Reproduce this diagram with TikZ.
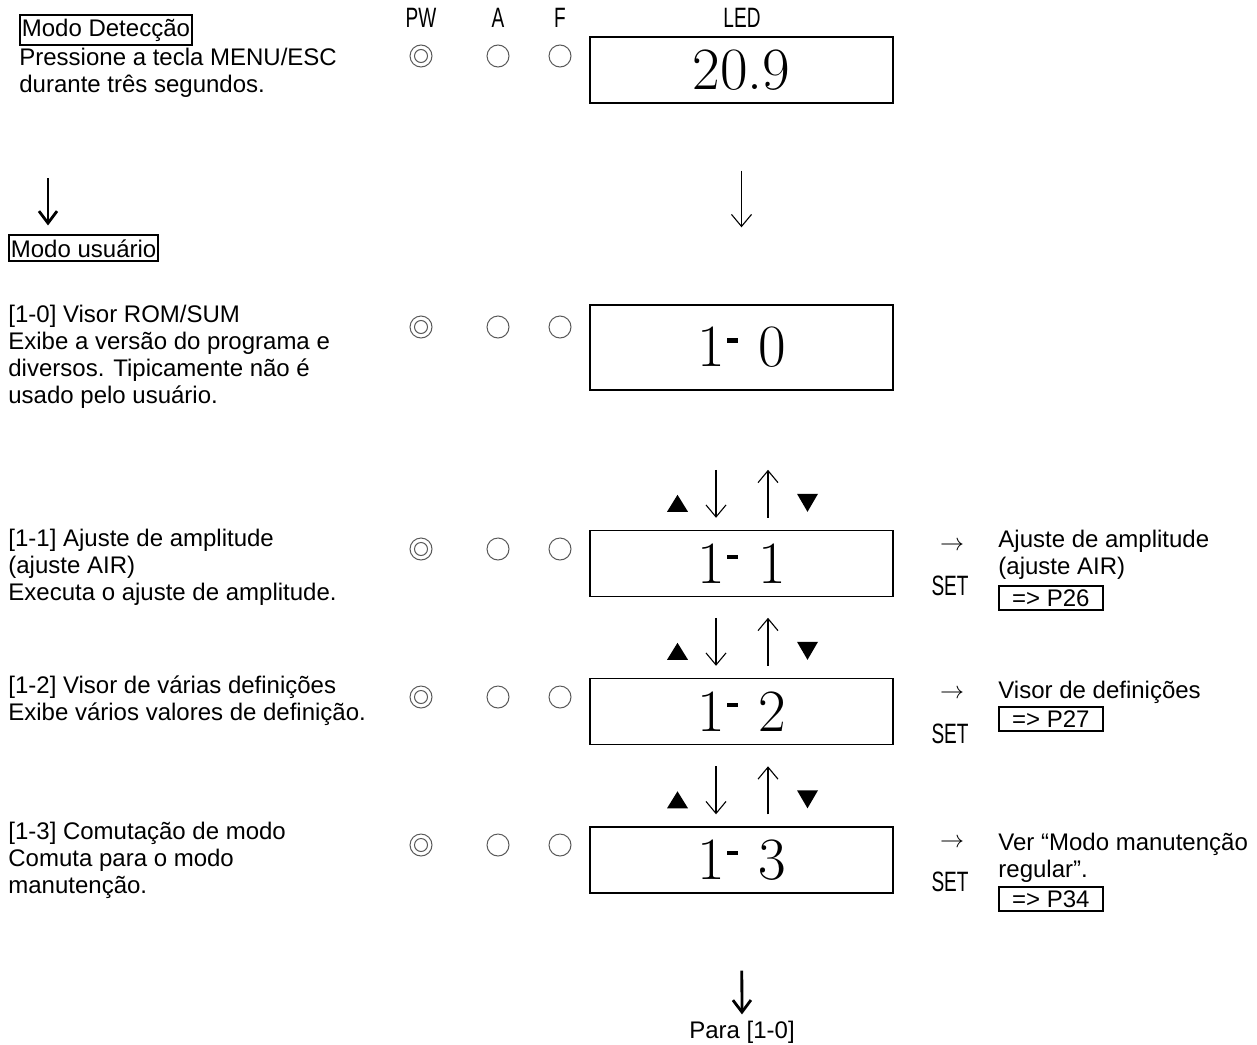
\documentclass[tikz,border=0pt]{standalone}
\usepackage{fontspec}
\setmainfont{Liberation Sans}
\newfontfamily\narrowfont[FakeStretch=0.68]{Liberation Sans}
\usetikzlibrary{arrows.meta,calc}

% dash of the LED read-out
\newcommand{\leddash}{\kern1pt\rule[12pt]{5.5pt}{2.2pt}\kern10pt}

\tikzset{
    txt/.style={anchor=base west, inner sep=0pt, align=left,
        font=\fontsize{12}{13.5}\selectfont},
    tagbox/.style={draw, line width=0.9pt, inner xsep=1pt, inner ysep=2pt,
        font=\fontsize{12}{13.5}\selectfont},
    refbox/.style={draw, line width=0.9pt, inner sep=0pt, minimum width=52pt,
        minimum height=12pt, anchor=north west, font=\fontsize{12}{12}\selectfont},
    hdr/.style={font=\narrowfont\fontsize{14}{14}\selectfont},
    lamp/.style={circle, draw=black!65, line width=0.5pt, minimum size=11pt, inner sep=0pt},
    led/.style={draw, line width=0.7pt, minimum width=151.5pt, minimum height=33pt,
        font=\fontfamily{lmr}\fontsize{30}{30}\selectfont},
    thinarrow/.style={line width=0.55pt, -{Straight Barb[length=6pt,width=10pt]}},
    bigarrow/.style={line width=1.4pt, -{Straight Barb[length=6pt,width=9pt,line width=1.4pt]}}
}

\begin{document}
\begin{tikzpicture}[x=0.5pt,y=-0.5pt]
    \useasboundingbox (0,0) rectangle (1257,1044);

    % Column heads
    \node[hdr] (hpw) at (421,18) {PW};
    \node[hdr] (ha) at (498,18) {A};
    \node[hdr] (hf) at (560,18) {F};
    \node[hdr] (hled) at (742,18) {LED};

    % Lamps of each row
    \foreach \y [count=\i from 0] in {56,327,549,697,845} {
        \node[lamp] (pw\i) at (421,\y) {};
        \draw[black!65, line width=0.5pt] (pw\i.center) circle (6.5);
        \node[lamp] (a\i) at (498,\y) {};
        \node[lamp] (f\i) at (560,\y) {};
    }

    % LED displays
    \node[led] (led0) at (741.5,70) {20.9};
    \node[led, minimum height=42.5pt] (led1) at (741.5,347.5) {1\leddash 0};
    \node[led] (led2) at (741.5,563.5) {1\leddash 1};
    \node[led] (led3) at (741.5,711.5) {1\leddash 2};
    \node[led] (led4) at (741.5,860) {1\leddash 3};

    \draw[thinarrow, shorten <=33.5pt, shorten >=38.5pt] (led0.south) -- (led1.north);

    % Up / down keys between the displays
    \foreach \n in {2,3,4} {
        \draw[thinarrow] ($(led\n.north)+(-25.5,-60)$) -- ($(led\n.north)+(-25.5,-12)$);
        \draw[thinarrow] ($(led\n.north)+(26.5,-12)$) -- ($(led\n.north)+(26.5,-60)$);
        \fill ($(led\n.north)+(-74.5,-18)$) -- ++(10.5,-17) -- ++(10.5,17) -- cycle;
        \fill ($(led\n.north)+(55.5,-36)$) -- ++(21,0) -- ++(-10.5,18) -- cycle;
    }

    % Left column
    \node[tagbox, anchor=base west] (det) at (19,36) {Modo Detecção};
    \node[txt] (dettxt) at (19,92) {Pressione a tecla MENU/ESC\\durante três segundos.};
    \node[tagbox, anchor=base west] (user) at (8,257) {Modo usuário};
    \coordinate (dnext) at (48,178);
    \draw[bigarrow, shorten >=4.5pt] (dnext) -- (dnext |- user.north);

    \node[txt] (t10) at (8,403) {[1-0] Visor ROM/SUM\\Exibe a versão do programa e\\diversos. Tipicamente não é\\usado pelo usuário.};
    \node[txt] (t11) at (8,600) {[1-1] Ajuste de amplitude\\(ajuste AIR)\\Executa o ajuste de amplitude.};
    \node[txt] (t12) at (8,720) {[1-2] Visor de várias definições\\Exibe vários valores de definição.};
    \node[txt] (t13) at (8,893) {[1-3] Comutação de modo\\Comuta para o modo\\manutenção.};

    % SET keys and page references
    \foreach \n/\y in {2/563.5,3/711.5,4/860} {
        \node[font=\fontsize{12}{12}\selectfont] (go\n) at (952,\y-17) {$\rightarrow$};
        \node[hdr] (set\n) at (950,\y+22) {SET};
    }
    \node[txt] (r2) at (998,574) {Ajuste de amplitude\\(ajuste AIR)};
    \node[refbox] (p26) at (998,585) {=> P26};
    \node[txt] (r3) at (998,698) {Visor de definições};
    \node[refbox] (p27) at (998,706) {=> P27};
    \node[txt] (r4) at (998,877) {Ver “Modo manutenção\\regular”.};
    \node[refbox] (p34) at (998,886) {=> P34};

    % Back to the first item
    \node[font=\fontsize{12}{12}\selectfont, inner sep=0pt] (back) at (742,1032) {Para [1-0]};
    \draw[bigarrow, shorten <=38.5pt, shorten >=3pt] (led4.south) -- (back.north);
\end{tikzpicture}
\end{document}
